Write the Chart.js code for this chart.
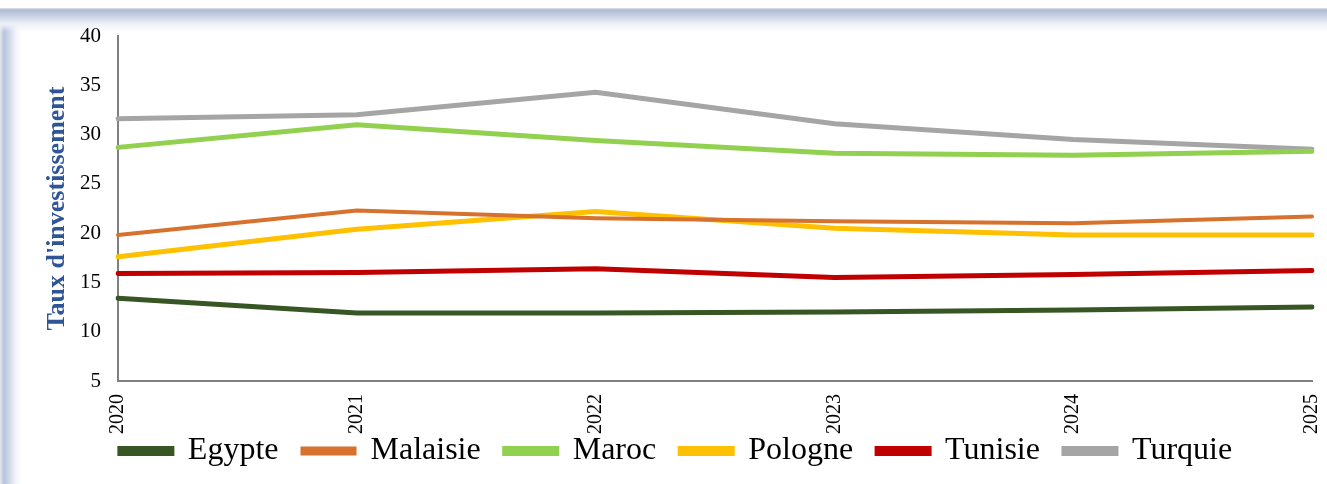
<!DOCTYPE html>
<html>
<head>
<meta charset="utf-8">
<script src="https://cdn.jsdelivr.net/npm/chart.js@4.4.0/dist/chart.umd.min.js"></script>
<style>
  html, body { margin: 0; padding: 0; background: #fff; }
  #frame {
    position: absolute; left: 0; top: 8px; width: 1327px; height: 476px;
    background:
      linear-gradient(to bottom, #e2e4e8 0px, #aebbd6 2px, #c9d2e4 8px, #eef1f7 16px, rgba(255,255,255,0) 24px),
      linear-gradient(to right, #e6e8ec 0px, #b7c3dc 4px, #d3dbea 10px, #f3f5fa 16px, #ffffff 22px);
  }
  #wrap { position: absolute; left: 0; top: 0; width: 1327px; height: 484px; }
</style>
</head>
<body>
<div id="frame"></div>
<div id="wrap"><canvas id="tauxChart" width="1327" height="484"></canvas></div>
<script>
// Données
const annees = ["2020", "2021", "2022", "2023", "2024", "2025"];

const egypte   = [13.4, 11.9, 11.9, 12.0, 12.2, 12.5];
const malaisie = [19.8, 22.3, 21.5, 21.2, 21.0, 21.7];
const maroc    = [28.7, 31.0, 29.4, 28.1, 27.9, 28.3];
const pologne  = [17.6, 20.4, 22.2, 20.5, 19.8, 19.8];
const tunisie  = [15.9, 16.0, 16.4, 15.5, 15.8, 16.2];
const turquie  = [31.6, 32.0, 34.3, 31.1, 29.5, 28.5];

const yTicks = [5, 10, 15, 20, 25, 30, 35, 40];

const serif = "'Liberation Serif', 'Times New Roman', serif";

function serie(label, data, color, width) {
    return {
        label: label,
        data: data,
        borderColor: color,
        backgroundColor: color,
        borderWidth: width,
        borderCapStyle: 'round',
        pointRadius: 0,
        tension: 0,
        fill: false
    };
}

// les étiquettes de l'axe X débordent sur la zone de la légende : on élargit la zone de découpe
const labelsDebordent = {
    id: 'labelsDebordent',
    beforeDraw(chart) {
        chart.scales.x.bottom = chart.height;
    }
};

new Chart(document.getElementById('tauxChart').getContext('2d'), {
    type: 'line',
    data: {
        labels: annees,
        datasets: [
            serie('Egypte', egypte, '#375623', 5),
            serie('Malaisie', malaisie, '#D6722E', 4),
            serie('Maroc', maroc, '#92D050', 5),
            serie('Pologne', pologne, '#FFC000', 5),
            serie('Tunisie', tunisie, '#C00000', 5),
            serie('Turquie', turquie, '#A5A5A5', 5)
        ]
    },
    plugins: [labelsDebordent],
    options: {
        responsive: false,
        animation: false,
        layout: { padding: { left: 40, right: 15, top: 36, bottom: 7 } },
        plugins: {
            legend: {
                position: 'bottom',
                labels: {
                    boxWidth: 52,
                    boxHeight: 5,
                    padding: 24,
                    color: '#000',
                    font: { family: serif, size: 32 }
                }
            },
            tooltip: { enabled: false }
        },
        scales: {
            x: {
                offset: false,
                afterFit: axis => {
                    axis.height = 30;
                    axis.paddingLeft = 0;
                    axis.paddingRight = 0;
                },
                grid: { display: false, drawTicks: true, tickLength: 6, color: '#808080', lineWidth: 2 },
                border: { color: '#808080', width: 2 },
                ticks: {
                    color: '#000',
                    minRotation: 90,
                    maxRotation: 90,
                    padding: 7,
                    font: { family: serif, size: 20 }
                }
            },
            y: {
                min: 5,
                max: 40,
                afterBuildTicks: axis => { axis.ticks = yTicks.map(v => ({ value: v })); },
                afterFit: axis => { axis.width = 78; },
                grid: { display: false, drawTicks: true, tickLength: 6, color: '#808080', lineWidth: 2 },
                border: { color: '#808080', width: 2 },
                ticks: {
                    color: '#000',
                    padding: 11,
                    font: { family: serif, size: 21 }
                },
                title: {
                    display: true,
                    text: "Taux d'investissement",
                    color: '#2F5597',
                    padding: { top: 2, bottom: 0 },
                    font: { family: serif, size: 26, weight: 'bold' }
                }
            }
        }
    }
});
</script>
</body>
</html>
